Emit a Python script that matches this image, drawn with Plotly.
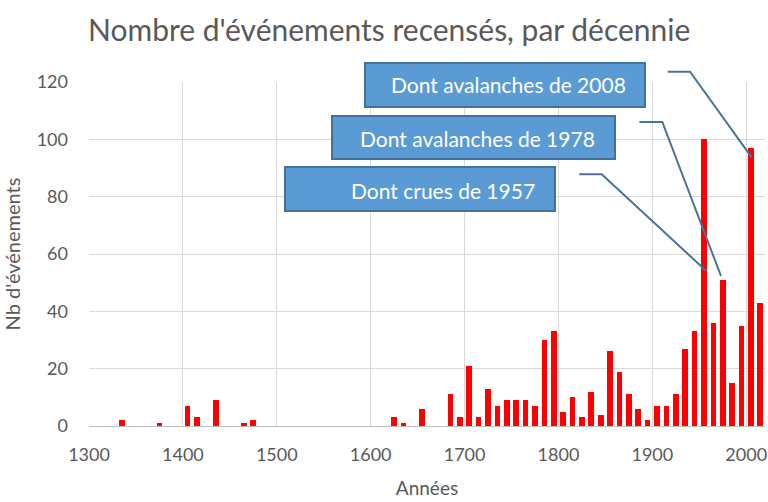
import plotly.graph_objects as go

# Data: decade start years and number of recorded events
decennies = [1330, 1370, 1400, 1410, 1430, 1460, 1470,
             1620, 1630, 1650, 1680, 1690,
             1700, 1710, 1720, 1730, 1740, 1750, 1760, 1770, 1780, 1790,
             1800, 1810, 1820, 1830, 1840, 1850, 1860, 1870, 1880, 1890,
             1900, 1910, 1920, 1930, 1940, 1950, 1960, 1970, 1980, 1990,
             2000, 2010]
evenements = [2, 1, 7, 3, 9, 1, 2,
              3, 1, 6, 11, 3,
              21, 3, 13, 7, 9, 9, 9, 7, 30, 33,
              5, 10, 3, 12, 4, 26, 19, 11, 6, 2,
              7, 7, 11, 27, 33, 100, 36, 51, 15, 35,
              97, 43]

x_ticks = [1300, 1400, 1500, 1600, 1700, 1800, 1900, 2000]
y_ticks = [0, 20, 40, 60, 80, 100, 120]

labels = ["Dont avalanches de 2008", "Dont avalanches de 1978", "Dont crues de 1957"]

FONT = "Lato"
GREY = "#595959"
GRID = "#D9D9D9"

fig = go.Figure()
fig.add_trace(go.Bar(
    x=[d + 5 for d in decennies],
    y=evenements,
    width=6,
    marker=dict(color="#FF0000", line=dict(width=0)),
    hoverinfo="x+y",
))

# callout boxes (paper coords) and their leader lines
boxes = [
    dict(x0=0.4083, x1=0.8225, y0=0.9273, y1=1.0552, tx=0.7973, ty=0.9913,
         path=[(0.8561, 1.0299), (0.8891, 1.0299), (0.9803, 0.7811)]),
    dict(x0=0.3595, x1=0.7781, y0=0.7762, y1=0.9012, tx=0.7515, ty=0.8372,
         path=[(0.8141, 0.8837), (0.8481, 0.8837), (0.9349, 0.4360)]),
    dict(x0=0.2899, x1=0.6893, y0=0.6250, y1=0.7529, tx=0.6627, ty=0.6860,
         path=[(0.7253, 0.7317), (0.7584, 0.7317), (0.9127, 0.4515)]),
]
shapes = []
annotations = []
for lab, b in zip(labels, boxes):
    p = b["path"]
    shapes.append(dict(type="path", xref="paper", yref="paper",
                       path="M %f,%f L %f,%f L %f,%f" % (p[0][0], p[0][1], p[1][0], p[1][1], p[2][0], p[2][1]),
                       line=dict(color="#4A7398", width=2), layer="above"))
    shapes.append(dict(type="rect", xref="paper", yref="paper",
                       x0=b["x0"], x1=b["x1"], y0=b["y0"], y1=b["y1"],
                       fillcolor="#5B9BD5", line=dict(color="#41719C", width=2), layer="above"))
    annotations.append(dict(text=lab, xref="paper", yref="paper", x=b["tx"], y=b["ty"],
                            xanchor="right", yanchor="middle", showarrow=False,
                            font=dict(family=FONT, size=21, color="white")))

fig.update_layout(
    width=768, height=502,
    margin=dict(l=89, r=3, t=82, b=76, autoexpand=False),
    paper_bgcolor="white", plot_bgcolor="white",
    showlegend=False,
    title=dict(text="Nombre d'événements recensés, par décennie",
               x=88 / 768, xanchor="left", xref="container",
               y=1 - 30 / 502, yanchor="middle", yref="container",
               font=dict(family=FONT, size=30, color=GREY)),
    font=dict(family=FONT, color=GREY),
    shapes=shapes,
    annotations=annotations,
    bargap=0,
)
fig.update_xaxes(
    range=[1300, 2020], tickvals=x_ticks, ticktext=[str(t) for t in x_ticks],
    showgrid=True, gridcolor=GRID, gridwidth=1,
    showline=True, linecolor="#BFBFBF", linewidth=1,
    zeroline=False, ticks="", ticklabelstandoff=12, automargin=False,
    tickfont=dict(family=FONT, size=18, color=GREY),
    title=dict(text="Années", font=dict(family=FONT, size=19, color=GREY), standoff=18),
)
fig.update_yaxes(
    range=[0, 120], tickvals=y_ticks,
    showgrid=True, gridcolor=GRID, gridwidth=1,
    showline=False, zeroline=False, ticks="", ticklabelstandoff=20, automargin=False,
    tickfont=dict(family=FONT, size=18, color=GREY),
    title=dict(text="Nb d'événements", font=dict(family=FONT, size=20, color=GREY), standoff=10),
)

fig.write_html("out.html", config={"displayModeBar": False},
               post_script="document.body.style.margin='0';document.body.style.overflow='hidden';")
